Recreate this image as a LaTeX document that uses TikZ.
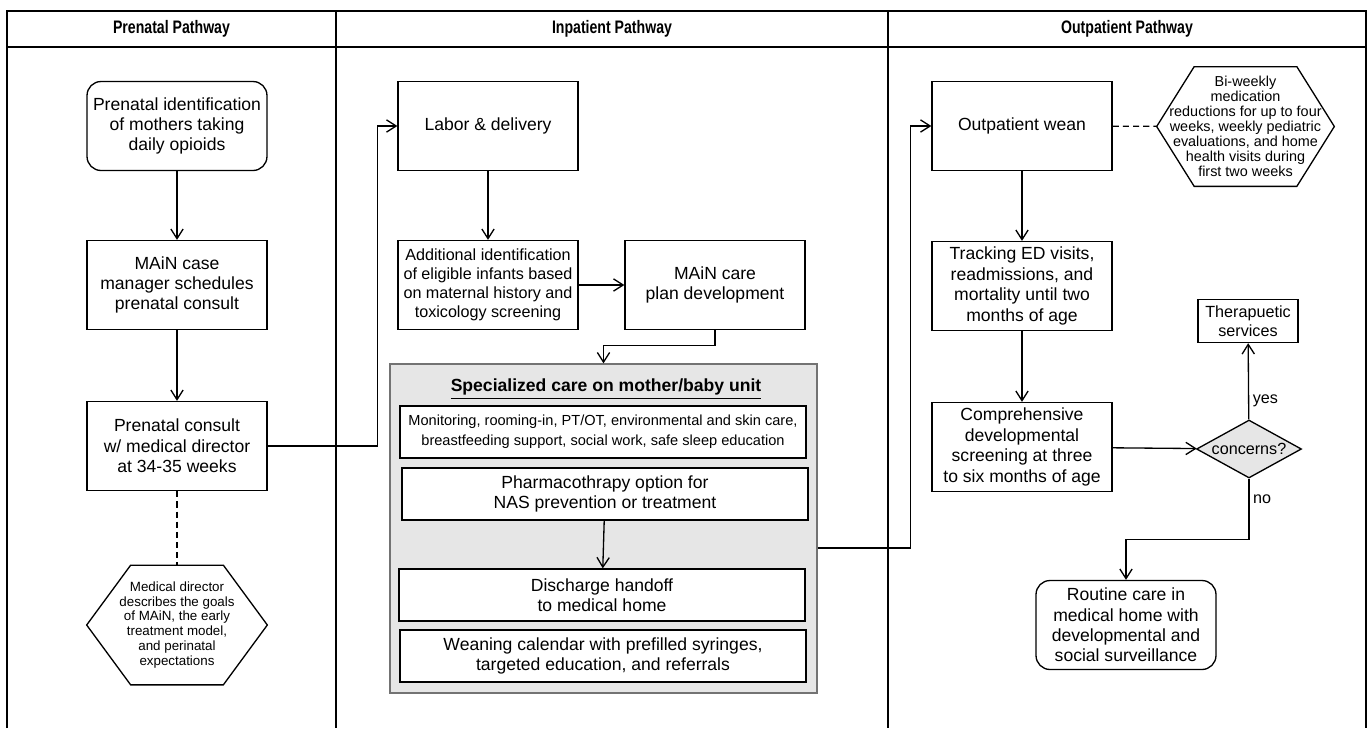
\documentclass[tikz,border=0pt]{standalone}
\usepackage{fontspec}
\setmainfont{Liberation Sans}
\newfontfamily\headfont[FakeStretch=0.78]{Liberation Sans}
\usetikzlibrary{arrows.meta, shapes.geometric}
\definecolor{unitgray}{HTML}{E6E6E6}

\begin{document}
\begin{tikzpicture}[x=0.02cm, y=-0.02cm]
    \tikzset{
        proc box/.style={draw, line width=0.75pt, align=center,
            minimum width=3.6cm, minimum height=1.78cm, inner sep=1pt,
            font=\fontsize{10}{11.6}\selectfont},
        round box/.style={proc box, rounded corners=0.28cm},
        wide box/.style={draw, line width=0.75pt, fill=white, align=center,
            minimum width=8.12cm, minimum height=1.04cm, inner sep=1pt,
            font=\fontsize{10}{11.7}\selectfont},
        note hex/.style={align=center, minimum width=3.6cm, minimum height=2.38cm, inner sep=0pt},
        hex line/.style={line width=0.75pt, line join=miter},
        decision/.style={diamond, aspect=1.8, draw, fill=unitgray, line width=0.75pt,
            minimum width=2.1cm, minimum height=1.16cm, inner sep=0pt,
            font=\fontsize{9.2}{11}\selectfont},
        flow arrow/.style={line width=0.75pt, -{Straight Barb[length=5.5pt, width=7pt]}},
        link line/.style={line width=0.75pt, dash pattern=on 3.5pt off 2.3pt},
        frame line/.style={line width=1.1pt},
        lane title/.style={font=\headfont\bfseries\fontsize{10.3}{12}\selectfont},
        tag/.style={font=\fontsize{9.2}{11}\selectfont, inner sep=2pt}
    }

    \useasboundingbox (0,0) rectangle (1370,728);

    % --- SWIMLANES ---
    \draw[frame line] (7,728) -- (7,11) -- (1366,11) -- (1366,728);
    \draw[line width=1.6pt] (7,47) -- (1366,47);
    \draw[frame line] (336,11) -- (336,728);
    \draw[frame line] (888,11) -- (888,728);

    \node[lane title] (prenatal) at (171.5,29) {Prenatal Pathway};
    \node[lane title] (inpatient) at (612,29) {Inpatient Pathway};
    \node[lane title] (outpatient) at (1127,29) {Outpatient Pathway};

    % --- PRENATAL ---
    \node[round box] (identify) at (177,126) {Prenatal identification\\of mothers taking\\daily opioids};
    \node[proc box] (schedule) at (177,285) {MAiN case\\manager schedules\\prenatal consult};
    \node[proc box] (consult) at (177,446) {Prenatal consult\\w/ medical director\\at 34-35 weeks};
    \node[note hex, font=\fontsize{7.6}{8.5}\selectfont] (goals) at (177,625)
        {Medical director\\describes the goals\\of MAiN, the early\\treatment model,\\and perinatal\\expectations};
    \draw[hex line] (goals.west) -- ([xshift=0.88cm]goals.north west) -- ([xshift=-0.88cm]goals.north east)
        -- (goals.east) -- ([xshift=-0.88cm]goals.south east) -- ([xshift=0.88cm]goals.south west) -- cycle;

    % --- INPATIENT ---
    \node[proc box] (labor) at (488,126) {Labor \& delivery};
    \node[proc box, font=\fontsize{9.2}{10.8}\selectfont] (extra) at (488,285)
        {Additional identification\\of eligible infants based\\on maternal history and\\toxicology screening};
    \node[proc box] (plan) at (715,285) {MAiN care\\plan development};

    % mother/baby unit (grey container)
    \node[draw=black!55, fill=unitgray, line width=0.8pt, minimum width=8.54cm, minimum height=6.58cm] (unit) at (603.5,528.5) {};
    \node[font=\bfseries\fontsize{10}{12}\selectfont] (unittitle) at (606,389) {\underline{Specialized care on mother/baby unit}};
    \node[wide box, font=\fontsize{8.3}{11.5}\selectfont] (support) at (603,432)
        {Monitoring, rooming-in, PT/OT, environmental and skin care,\\breastfeeding support, social work, safe sleep education};
    \node[wide box] (pharma) at (605,494) {Pharmacothrapy option for\\NAS prevention or treatment};
    \node[wide box] (handoff) at (602,595) {Discharge handoff\\to medical home};
    \node[wide box] (calendar) at (603,656) {Weaning calendar with prefilled syringes,\\targeted education, and referrals};

    % --- OUTPATIENT ---
    \node[proc box] (wean) at (1022,126) {Outpatient wean};
    \node[note hex, minimum width=3.54cm, font=\fontsize{8.2}{8.6}\selectfont] (taper) at (1245.5,126.5)
        {Bi-weekly\\medication\\reductions for up to four\\weeks, weekly pediatric\\evaluations, and home\\health visits during\\first two weeks};
    \draw[hex line] (taper.west) -- ([xshift=0.75cm]taper.north west) -- ([xshift=-0.75cm]taper.north east)
        -- (taper.east) -- ([xshift=-0.75cm]taper.south east) -- ([xshift=0.75cm]taper.south west) -- cycle;
    \node[proc box] (track) at (1022,286) {Tracking ED visits,\\readmissions, and\\mortality until two\\months of age};
    \node[proc box] (screen) at (1022,447) {Comprehensive\\developmental\\screening at three\\to six months of age};
    \node[decision] (concern) at (1249,449) {concerns?};
    \node[proc box, minimum width=2cm, minimum height=0.86cm, font=\fontsize{9.2}{11}\selectfont] (therapy) at (1248,321) {Therapuetic\\services};
    \node[round box] (routine) at (1126,625) {Routine care in\\medical home with\\developmental and\\social surveillance};

    % --- CONNECTORS ---
    \draw[flow arrow] (identify) -- (schedule);
    \draw[flow arrow] (schedule) -- (consult);
    \draw[link line] (consult) -- (goals);
    \draw[flow arrow] (consult.east) -- ++(110,0) |- (labor.west);

    \draw[flow arrow] (labor) -- (extra);
    \draw[flow arrow] (extra) -- (plan);
    \draw[flow arrow] (plan.south) -- ++(0,15) -| (unit.north);
    \draw[flow arrow] (pharma) -- (handoff);
    \draw[flow arrow] ([yshift=-0.39cm]unit.east) -- ++(93,0) |- (wean.west);

    \draw[link line] (wean) -- (taper);
    \draw[flow arrow] (wean) -- (track);
    \draw[flow arrow] (track) -- (screen);
    \draw[flow arrow] (screen) -- (concern);
    \draw[flow arrow] (concern) -- node[tag, right, pos=0.25] {yes} (therapy);
    \draw[flow arrow] (concern.south) -- node[tag, right, pos=0.33] {no} ++(0,61) -| (routine.north);
\end{tikzpicture}
\end{document}
